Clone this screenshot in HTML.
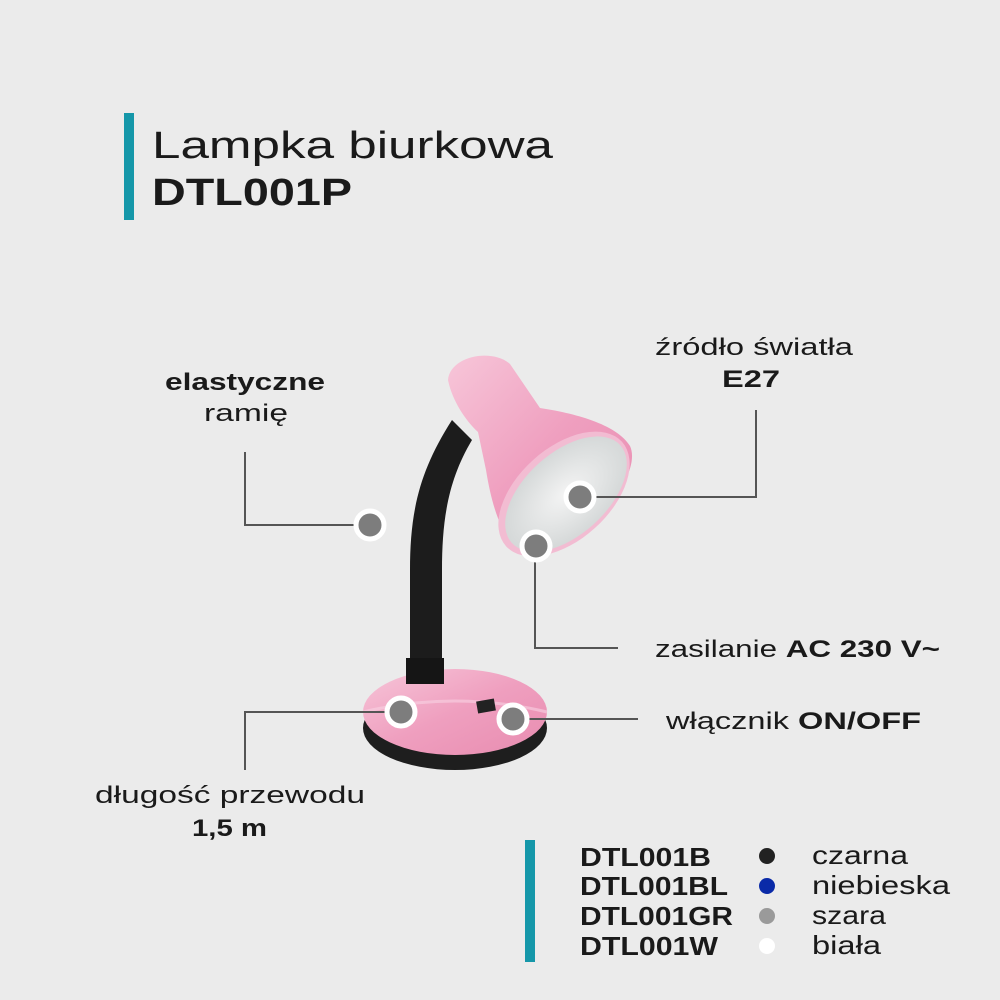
<!DOCTYPE html>
<html><head><meta charset="utf-8"><style>
html,body{margin:0;padding:0;background:#ebebeb;}
svg{display:block}
text{font-family:"Liberation Sans",sans-serif;fill:#1a1a1a}
</style></head><body>
<svg width="1000" height="1000" viewBox="0 0 1000 1000" xmlns="http://www.w3.org/2000/svg">
<defs>
<linearGradient id="pk" x1="0" y1="0" x2="1" y2="1">
<stop offset="0" stop-color="#f7c6d9"/><stop offset="0.5" stop-color="#ef9fbf"/><stop offset="1" stop-color="#e88cb0"/></linearGradient>
<radialGradient id="in" cx="0.5" cy="0.5" r="0.6"><stop offset="0" stop-color="#f4f4f4"/><stop offset="1" stop-color="#cfd3d3"/></radialGradient>
</defs>
<rect width="1000" height="1000" fill="#ebebeb"/>
<!-- title -->
<rect x="124" y="113" width="10" height="107" fill="#1597a9"/>
<text x="152" y="158" font-size="38" fill="#222" textLength="401" lengthAdjust="spacingAndGlyphs">Lampka biurkowa</text>
<text x="152" y="205" font-size="38" font-weight="bold" fill="#111" textLength="200" lengthAdjust="spacingAndGlyphs">DTL001P</text>

<!-- lamp base -->
<ellipse cx="455" cy="728" rx="92" ry="42" fill="#1e1e1e"/>
<ellipse cx="455" cy="712" rx="92" ry="43" fill="url(#pk)"/>
<path d="M363 712 Q455 690 547 712" fill="none" stroke="#f8d2e2" stroke-width="3" opacity=".6"/>
<rect x="477" y="700" width="18" height="12" fill="#222" transform="rotate(-10 486 706)"/>
<!-- neck -->
<path d="M410 680 L410 570 C410 510 420 470 452 420 L472 440 C448 480 442 520 442 570 L442 680 Z" fill="#1c1c1c"/>
<rect x="406" y="658" width="38" height="26" fill="#151515"/>
<!-- shade -->
<path d="M448 380 C450 356 492 348 510 364 L540 408 C580 414 618 426 630 446 C642 472 600 532 528 554 C508 548 494 520 486 470 L478 432 C465 420 452 400 448 380 Z" fill="url(#pk)"/>
<ellipse cx="564" cy="494" rx="78" ry="46" transform="rotate(-42 564 494)" fill="#f2bcd2"/>
<ellipse cx="566" cy="494" rx="73" ry="41" transform="rotate(-42 566 494)" fill="url(#in)"/>

<!-- connectors -->
<g stroke="#555" stroke-width="2" fill="none">
<polyline points="245,452 245,525 356,525"/>
<polyline points="594,497 756,497 756,410"/>
<polyline points="535,560 535,648 618,648"/>
<polyline points="527,719 638,719"/>
<polyline points="387,712 245,712 245,770"/>
</g>
<g fill="#7d7d7d" stroke="#fff" stroke-width="5">
<circle cx="370" cy="525" r="14"/>
<circle cx="580" cy="497" r="14"/>
<circle cx="536" cy="546" r="14"/>
<circle cx="401" cy="712" r="14"/>
<circle cx="513" cy="719" r="14"/>
</g>

<!-- labels -->
<text x="165" y="390" font-size="24" font-weight="bold" textLength="160" lengthAdjust="spacingAndGlyphs">elastyczne</text>
<text x="204" y="421" font-size="24" textLength="84" lengthAdjust="spacingAndGlyphs">ramię</text>
<text x="655" y="355" font-size="24" textLength="198" lengthAdjust="spacingAndGlyphs">źródło światła</text>
<text x="722" y="387" font-size="24" font-weight="bold" textLength="58" lengthAdjust="spacingAndGlyphs">E27</text>
<text x="655" y="657" font-size="24" textLength="285" lengthAdjust="spacingAndGlyphs">zasilanie <tspan font-weight="bold">AC 230 V~</tspan></text>
<text x="666" y="729" font-size="24" textLength="255" lengthAdjust="spacingAndGlyphs">włącznik <tspan font-weight="bold">ON/OFF</tspan></text>
<text x="95" y="803" font-size="24" textLength="270" lengthAdjust="spacingAndGlyphs">długość przewodu</text>
<text x="192" y="836" font-size="24" font-weight="bold" textLength="75" lengthAdjust="spacingAndGlyphs">1,5 m</text>

<!-- legend -->
<rect x="525" y="840" width="10" height="122" fill="#1597a9"/>
<g font-size="26" font-weight="bold">
<text x="580" y="866" textLength="131" lengthAdjust="spacingAndGlyphs">DTL001B</text>
<text x="580" y="895" textLength="148" lengthAdjust="spacingAndGlyphs">DTL001BL</text>
<text x="580" y="925" textLength="153" lengthAdjust="spacingAndGlyphs">DTL001GR</text>
<text x="580" y="955" textLength="138" lengthAdjust="spacingAndGlyphs">DTL001W</text>
</g>
<circle cx="767" cy="856" r="8" fill="#222"/>
<circle cx="767" cy="886" r="8" fill="#0a2aa8"/>
<circle cx="767" cy="916" r="8" fill="#9a9a9a"/>
<circle cx="767" cy="946" r="8" fill="#fff"/>
<g font-size="26" fill="#222">
<text x="812" y="864" textLength="96" lengthAdjust="spacingAndGlyphs">czarna</text>
<text x="812" y="894" textLength="138" lengthAdjust="spacingAndGlyphs">niebieska</text>
<text x="812" y="924" textLength="74" lengthAdjust="spacingAndGlyphs">szara</text>
<text x="812" y="954" textLength="69" lengthAdjust="spacingAndGlyphs">biała</text>
</g>
</svg>
</body></html>
